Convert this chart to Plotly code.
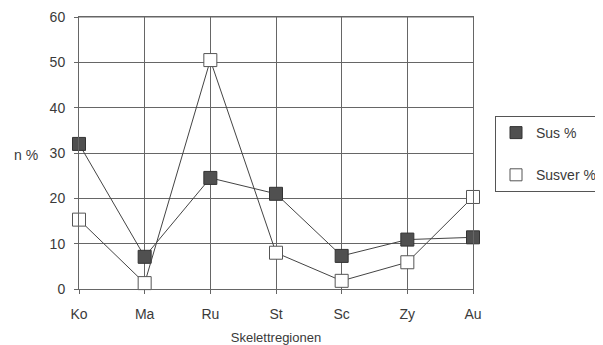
import plotly.graph_objects as go

categories = ["Ko", "Ma", "Ru", "St", "Sc", "Zy", "Au"]
sus = [32, 7.1, 24.5, 21, 7.3, 10.9, 11.4]
susver = [15.3, 1.3, 50.5, 8.0, 1.8, 5.9, 20.3]
y_ticks = [0, 10, 20, 30, 40, 50, 60]

FONT = "Liberation Sans, Arial, sans-serif"
TXT = "#3a3a3a"

fig = go.Figure()
fig.add_trace(go.Scatter(
    x=categories, y=sus, mode="lines+markers", showlegend=False, cliponaxis=False,
    line=dict(color="#444444", width=1),
    marker=dict(symbol="square", size=13, color="#505050",
                line=dict(color="#333333", width=1)),
))
fig.add_trace(go.Scatter(
    x=categories, y=susver, mode="lines+markers", showlegend=False, cliponaxis=False,
    line=dict(color="#444444", width=1),
    marker=dict(symbol="square", size=13, color="white",
                line=dict(color="#555555", width=1)),
))
# legend-only entries (marker only)
fig.add_trace(go.Scatter(
    x=[None], y=[None], mode="markers", name="Sus %", legendgroup="a",
    marker=dict(symbol="square", size=12, color="#505050",
                line=dict(color="#333333", width=1)),
))
fig.add_trace(go.Scatter(
    x=[None], y=[None], mode="markers", name="Susver %", legendgroup="b",
    marker=dict(symbol="square", size=12, color="white",
                line=dict(color="#555555", width=1)),
))

# page body adds an 8px offset; plot area target (screen): x 79..473, y 16..288
fig.update_layout(
    width=603, height=345,
    margin=dict(l=71, r=138, t=9, b=64, autoexpand=False),
    paper_bgcolor="white", plot_bgcolor="white",
    font=dict(family=FONT, size=14, color=TXT),
    legend=dict(
        x=(495 - 79) / 394, xanchor="left", y=(288 - 115) / 272,
        yanchor="top", bordercolor="#555555", borderwidth=1,
        font=dict(family=FONT, size=14, color=TXT),
        tracegroupgap=21, itemwidth=30,
    ),
    xaxis=dict(
        type="category", range=[0, 6], showgrid=True, gridcolor="#666666",
        gridwidth=1, showline=True, mirror=True, linecolor="#666666", linewidth=1,
        ticks="outside", ticklen=4, tickcolor="#666666",
        ticklabelstandoff=8, zeroline=False, ticklabeloverflow="allow",
        title=dict(text="Skelettregionen", standoff=12,
                   font=dict(size=13, color=TXT)),
    ),
    yaxis=dict(
        range=[0, 60], tickvals=y_ticks, showgrid=True, gridcolor="#666666",
        gridwidth=1, showline=True, mirror=True, linecolor="#666666", linewidth=1,
        ticks="outside", ticklen=4, tickcolor="#666666",
        ticklabelstandoff=6, zeroline=False, ticklabeloverflow="allow",
    ),
    shapes=[dict(type="line", xref="paper", yref="paper", x0=0, x1=1, y0=1, y1=1,
                 line=dict(color="#666666", width=1), layer="above")],
    annotations=[dict(
        text="n %", xref="paper", yref="paper", x=(12 - 79) / 394,
        y=(288 - 154) / 272, xanchor="left", yanchor="middle",
        showarrow=False, font=dict(size=14, color=TXT),
    )],
)

fig.write_html("out.html")
